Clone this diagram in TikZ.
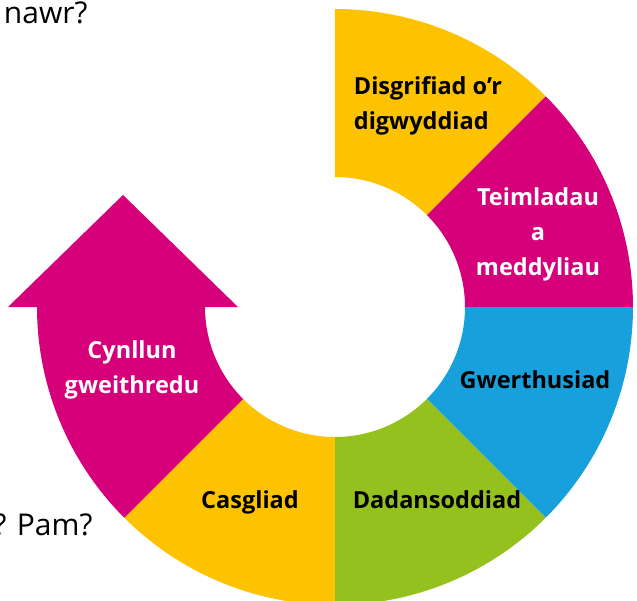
\documentclass[tikz,border=0pt]{standalone}
\usepackage{fontspec}
\setmainfont{Open Sans}
\usetikzlibrary{positioning}
\definecolor{ringyellow}{HTML}{FDC300}
\definecolor{ringmagenta}{HTML}{D5007A}
\definecolor{ringblue}{HTML}{17A0DB}
\definecolor{ringgreen}{HTML}{95C11F}

\begin{document}
\begin{tikzpicture}[x=1pt,y=1pt,
  lbl/.style={font=\bfseries\fontsize{23.5}{35}\selectfont, align=center},
  side/.style={font=\fontsize{30}{34}\selectfont, anchor=base east}]
\useasboundingbox (-335,-293) rectangle (302,307);
\clip (-335,-293) rectangle (302,307);
% ring segments
\foreach \a/\b/\c in {45/90/ringyellow, 0/45/ringmagenta, -45/0/ringblue,
  -90/-45/ringgreen, -135/-90/ringyellow, -180/-135/ringmagenta}
{	\fill[\c] (\a:130) -- (\a:298) arc[start angle=\a, end angle=\b, radius=298]
    -- (\b:130) arc[start angle=\b, end angle=\a, radius=130] -- cycle;
}
% arrow head
\fill[ringmagenta] (-327,0) -- (-212,112) -- (-97,0) -- cycle;
% labels
\node[lbl, align=left] (desc) at (93,201) {Disgrifiad o’r\\digwyddiad};
\node[lbl, white] (feel) at (203,73) {Teimladau\\a\\meddyliau};
\node[lbl, anchor=base] (eval) at (200,-81) {Gwerthusiad};
\node[lbl, anchor=base] (anal) at (102,-201) {Dadansoddiad};
\node[lbl, anchor=base] (conc) at (-85,-201) {Casgliad};
\node[lbl, white] (plan) at (-203,-63) {Cynllun\\gweithredu};
% cut-off questions
\node[side] (now) at (-244,283) {nawr?};
\node[side] (why) at (-239,-228) {? Pam?};
\end{tikzpicture}
\end{document}
